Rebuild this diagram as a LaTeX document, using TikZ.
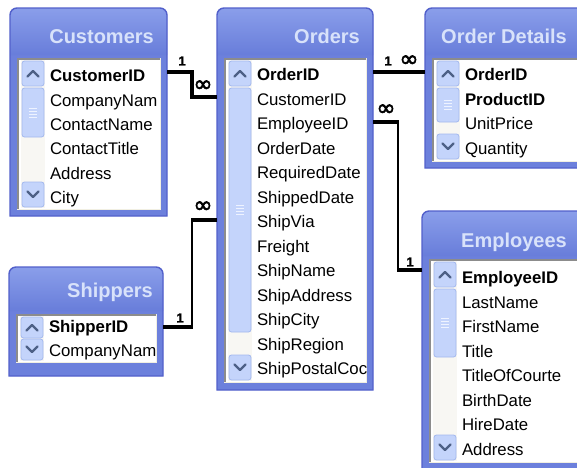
\documentclass[tikz,border=0pt]{standalone}
\usepackage{fontspec}
\setmainfont{Liberation Sans}
\newfontfamily\symfont[FakeBold=2.5]{DejaVu Sans}
\newfontfamily\onefont[FakeBold=1]{Liberation Sans}
\usetikzlibrary{calc}
\definecolor{winfill}{HTML}{6C80DC}
\definecolor{winedgecol}{HTML}{5260CB}
\definecolor{tbtop}{HTML}{8A9EEA}
\definecolor{tbbot}{HTML}{687DDA}
\definecolor{titletext}{HTML}{D8E2FA}
\definecolor{listedge}{HTML}{8C8C8C}
\definecolor{listinner}{HTML}{F1EFE2}
\definecolor{btnfill}{HTML}{C4D4FB}
\definecolor{btnedge}{HTML}{A3B8EE}
\definecolor{chevcol}{HTML}{4D6086}
\definecolor{gripcol}{HTML}{EEF3FF}
\definecolor{trackcol}{HTML}{F8F7F3}
\tikzset{
  winedge/.style={draw=winedgecol, line width=1.4pt},
  btn/.style={fill=btnfill, draw=btnedge, line width=0.8pt, rounded corners=2.5pt},
  chev/.style={draw=chevcol, line width=2.4pt, line cap=round, line join=round},
  grip/.style={draw=gripcol, line width=0.9pt},
  field/.style={inner sep=0pt, outer sep=0pt, anchor=west, text height=11.5pt, text depth=0pt,
    font=\fontsize{16.8}{20}\selectfont, text=black},
  keyfield/.style={field, font=\fontsize{16.8}{20}\selectfont\bfseries},
  wtitle/.style={inner sep=0pt, anchor=east, text height=14.5pt, text depth=0pt,
    font=\fontsize{20}{24}\selectfont\bfseries, text=titletext},
  rel/.style={draw=black, line width=3.2pt},
  relthin/.style={draw=black, line width=1.5pt},
  onelab/.style={inner sep=0pt, font=\onefont\fontsize{13}{14}\selectfont\bfseries},
  manylab/.style={inner sep=0pt, font=\symfont\fontsize{23}{24}\selectfont},
}
% #1 name, #2 L, #3 T, #4 R, #5 B, #6 list top, #7 list bottom
\newcommand\dbframe[7]{%
  \fill[winfill] (#2,#5) [rounded corners=7pt] -- (#2,#3) -- (#4,#3) [sharp corners] -- (#4,#5) -- cycle;
  \shade[top color=tbtop, bottom color=tbbot] (#2,{#6-3}) [rounded corners=7pt] -- (#2,#3) -- (#4,#3) [sharp corners] -- (#4,{#6-3}) -- cycle;
  \draw[winedge] (#2,#5) [rounded corners=7pt] -- (#2,#3) -- (#4,#3) [sharp corners] -- (#4,#5) -- cycle;
  \node[inner sep=0pt, outer sep=0pt, minimum width={#4-#2}, minimum height={#5-#3}, anchor=north west] (#1) at (#2,#3) {};
  \fill[listinner] ({#2+7},#6) rectangle ({#4-6},#7);
  \fill[listedge] ({#2+7},#6) rectangle ({#4-7.5},{#7-1.5});
  \fill[white] ({#2+8.5},{#6+1.5}) rectangle ({#4-7.5},{#7-1.5});
}
% #1 list L, #2 list T, #3 list B, #4 button height
\newcommand\dbscroll[4]{%
  \fill[trackcol] ({#1+4},{#2+2}) rectangle ({#1+28},{#3-2});
  \draw[btn] ({#1+5},{#2+3}) rectangle ({#1+27},{#2+3+#4});
  \draw[chev] ({#1+10.5},{#2+3+#4/2+3}) -- ({#1+16},{#2+3+#4/2-2.5}) -- ({#1+21.5},{#2+3+#4/2+3});
  \draw[btn] ({#1+5},{#3-3-#4}) rectangle ({#1+27},{#3-3});
  \draw[chev] ({#1+10.5},{#3-3-#4/2-3}) -- ({#1+16},{#3-3-#4/2+2.5}) -- ({#1+21.5},{#3-3-#4/2-3});
}
% #1 list L, #2 y1, #3 y2
\newcommand\dbthumb[3]{%
  \draw[btn] ({#1+5},#2) rectangle ({#1+27},#3);
  \foreach \k in {-4.5,-1.5,1.5,4.5}{\draw[grip] ({#1+12},{(#2+#3)/2+\k}) -- ({#1+20},{(#2+#3)/2+\k});}
}
\begin{document}
\begin{tikzpicture}[x=1pt,y=-1pt]
\clip (0,0) rectangle (577,467);
\fill[white] (0,0) rectangle (577,467);

% ---------- Customers ----------
\dbframe{cust}{10}{8}{167}{216}{58}{210}
\node[wtitle] (custtitle) at (154,36) {Customers};
\dbscroll{17}{58}{210}{25}
\dbthumb{17}{88}{137}
\begin{scope}
\clip (26,60) rectangle (160,208);
\node[keyfield] (custid) at (50,76) {CustomerID};
\node[field] (ccompany) at (50,100.4) {CompanyNam};
\node[field] (ccontactname) at (50,124.8) {ContactName};
\node[field] (ccontacttitle) at (50,149.2) {ContactTitle};
\node[field] (caddress) at (50,173.6) {Address};
\node[field] (ccity) at (50,198) {City};
\end{scope}

% ---------- Orders ----------
\dbframe{orders}{217}{8}{373}{390}{58}{383}
\node[wtitle] (orderstitle) at (360,36) {Orders};
\dbscroll{224}{58}{383}{25}
\dbthumb{224}{88}{332}
\begin{scope}
\clip (230,60) rectangle (366,381);
\node[keyfield] (oid) at (257,75) {OrderID};
\node[field] (ocust) at (257,99.5) {CustomerID};
\node[field] (oemp) at (257,124) {EmployeeID};
\node[field] (odate) at (257,148.5) {OrderDate};
\node[field] (oreq) at (257,173) {RequiredDate};
\node[field] (oshipped) at (257,197.5) {ShippedDate};
\node[field] (oshipvia) at (257,222) {ShipVia};
\node[field] (ofreight) at (257,246.5) {Freight};
\node[field] (oshipname) at (257,271) {ShipName};
\node[field] (oshipaddr) at (257,295.5) {ShipAddress};
\node[field] (oshipcity) at (257,320) {ShipCity};
\node[field] (oshipregion) at (257,344.5) {ShipRegion};
\node[field] (opostal) at (257,369) {ShipPostalCoc};
\end{scope}

% ---------- Order Details ----------
\dbframe{od}{425}{8}{584}{168}{58}{162}
\node[wtitle] (odtitle) at (567,36) {Order Details};
\dbscroll{432}{58}{162}{25}
\dbthumb{432}{88}{122}
\begin{scope}
\clip (438,60) rectangle (577,160);
\node[keyfield] (dorder) at (465,75) {OrderID};
\node[keyfield] (dproduct) at (465,99.5) {ProductID};
\node[field] (dprice) at (465,124) {UnitPrice};
\node[field] (dqty) at (465,148.5) {Quantity};
\end{scope}

% ---------- Employees ----------
\dbframe{emp}{422}{211}{584}{480}{259}{463}
\node[wtitle] (emptitle) at (567,240) {Employees};
\dbscroll{429}{259}{463}{25}
\dbthumb{429}{289}{357}
\begin{scope}
\clip (435,261) rectangle (571,461);
\node[keyfield] (eid) at (462,278) {EmployeeID};
\node[field] (elast) at (462,302.5) {LastName};
\node[field] (efirst) at (462,327) {FirstName};
\node[field] (etitle) at (462,351.5) {Title};
\node[field] (ecourt) at (462,376) {TitleOfCourte};
\node[field] (ebirth) at (462,400.5) {BirthDate};
\node[field] (ehire) at (462,425) {HireDate};
\node[field] (eaddr) at (462,449.5) {Address};
\end{scope}

% ---------- Shippers ----------
\dbframe{ship}{9}{267}{163}{376}{314}{363}
\node[wtitle] (shiptitle) at (153,290) {Shippers};
\dbscroll{16}{314}{363}{21}
\begin{scope}
\clip (22,316) rectangle (157,361);
\node[keyfield] (sid) at (49,327) {ShipperID};
\node[field] (scompany) at (49,351) {CompanyNam};
\end{scope}

% ---------- Relationships ----------
% Customers -> Orders
\draw[rel] ($(cust.east |- custid)+(0,-4)$) -- ++(25,0) |- ($(orders.west |- ocust)+(0,-2.5)$);
\node[onelab] (r1one) at (182,61) {1};
\node[manylab] (r1many) at (203,86) {∞};

% Shippers -> Orders
\draw[relthin] (ship.east |- sid) -- ++(29,0) |- ($(orders.west |- oshipvia)+(0,-2)$);
\draw[rel] (ship.east |- sid) -- ++(29.7,0);
\draw[rel] ($(orders.west |- oshipvia)+(0,-2)$) -- ++(-25.7,0);
\node[onelab] (r2one) at (180,318) {1};
\node[manylab] (r2many) at (203,207) {∞};

% Orders -> Order Details
\draw[rel] ($(orders.east |- oid)+(0,-3)$) -- ($(od.west |- dorder)+(0,-3)$);
\node[onelab] (r3one) at (388,61) {1};
\node[manylab] (r3many) at (409,61) {∞};

% Orders -> Employees
\draw[relthin] ($(orders.east |- oemp)+(0,-2)$) -- ++(25,0) |- ($(emp.west |- eid)+(0,-8)$);
\draw[rel] ($(orders.east |- oemp)+(0,-2)$) -- ++(25.7,0);
\draw[rel] ($(emp.west |- eid)+(0,-8)$) -- ++(-24.7,0);
\node[manylab] (r4many) at (386,110) {∞};
\node[onelab] (r4one) at (410,262) {1};
\end{tikzpicture}
\end{document}
